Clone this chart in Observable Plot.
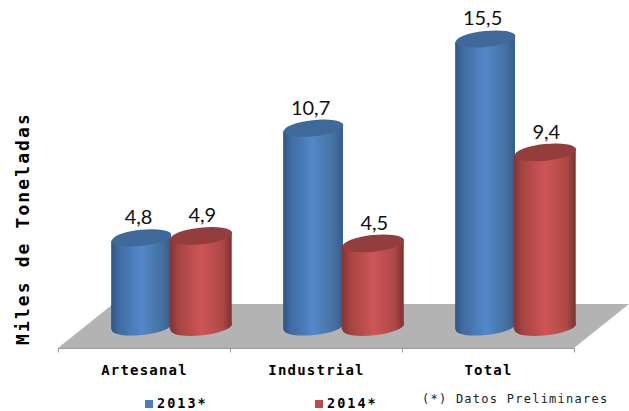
<!DOCTYPE html>
<html><head><meta charset="utf-8">
<script src="https://cdn.jsdelivr.net/npm/d3@7"></script>
<script src="https://cdn.jsdelivr.net/npm/@observablehq/plot@0.6"></script>
<style>
html,body{margin:0;padding:0;background:#fff;overflow:hidden}
#wrap{position:relative;width:629px;height:411px}
svg{display:block}
.lg{position:absolute;font-family:"DejaVu Sans Mono";white-space:nowrap;color:#000}
.k{font-weight:bold;font-size:13.5px;letter-spacing:2px;top:1px;line-height:16px}
.s{top:6px;width:8px;height:8px}
.n{font-size:12px;letter-spacing:1.25px;top:-3px;line-height:16px;color:#222}
</style></head><body><div id="wrap"></div>
<script>
const categories = ["Artesanal", "Industrial", "Total"];
const values2013 = [4.8, 10.7, 15.5];
const values2014 = [4.9, 4.5, 9.4];
const labels2013 = ["4,8", "10,7", "15,5"];
const labels2014 = ["4,9", "4,5", "9,4"];
const seriesNames = ["2013*", "2014*"];
const seriesOffset = [0.483, 0.83];
const halfWidth = [0.174, 0.18];
const tilt = 0.18;
const floorBack = [1.21, 1.21];
const floorFront = [-1.157, -1.157];
const floorX = [0, 3];
const floorShift = 0.32;
const ticks = [0, 1, 2, 3];

const rows = [];
categories.forEach((c, i) => {
  rows.push({c, i, s: 0, v: values2013[i], t: labels2013[i]});
  rows.push({c, i, s: 1, v: values2014[i], t: labels2014[i]});
});
const cx = d => d.i + seriesOffset[d.s];
const byS = s => rows.filter(d => d.s === s);

const squash = (ratio, angle) => function(index, scales, values, dims, ctx, next) {
  const g = next(index, scales, values, dims, ctx);
  d3.select(g).selectAll("circle").each(function() {
    const e = d3.select(this), x = +e.attr("cx"), y = +e.attr("cy");
    e.attr("transform", `translate(${x},${y}) rotate(${angle}) scale(1,${ratio}) translate(${-x},${-y})`);
  });
  return g;
};
const spaced = px => function(index, scales, values, dims, ctx, next) {
  const g = next(index, scales, values, dims, ctx);
  g.style.letterSpacing = px;
  return g;
};

const gradient = (id, stops) => `<linearGradient id="${id}" x1="0" x2="1" y1="0" y2="0">` +
  stops.map(([o, c]) => `<stop offset="${o}" stop-color="${c}"/>`).join("") + `</linearGradient>`;
const defsMark = () => {
  const g = document.createElementNS("http://www.w3.org/2000/svg", "g");
  g.innerHTML = "<defs>" +
    gradient("gBlue", [[0,"#2f5684"],[.12,"#3e6ba1"],[.5,"#5488c9"],[.85,"#44709f"],[1,"#345d8c"]]) +
    gradient("gRed", [[0,"#843433"],[.14,"#a54443"],[.5,"#ce5655"],[.85,"#ad4847"],[1,"#7d3130"]]) +
    "</defs>";
  return g;
};

function cylinders(s, grad, top) {
  const data = byS(s);
  const r = 172 * halfWidth[s];
  const sides = data.flatMap(d => [
    {d, x: cx(d) - halfWidth[s], lo: -tilt, hi: d.v - tilt},
    {d, x: cx(d) + halfWidth[s], lo: tilt, hi: d.v + tilt}
  ]);
  return [
    Plot.dot(data, {x: cx, y: () => 0, r, fill: `url(#${grad})`, render: squash(0.27, -6)}),
    Plot.area(sides, {x1: "x", x2: "x", y1: "lo", y2: "hi", z: e => e.d.c, fill: `url(#${grad})`}),
    Plot.dot(data, {x: cx, y: d => d.v, r, fill: top, render: squash(0.27, -6)})
  ];
}

const plot = Plot.plot({
  width: 629, height: 394,
  marginTop: 0, marginRight: 0, marginBottom: 0, marginLeft: 0,
  x: {axis: null, type: "linear", domain: [0, 3], range: [58, 574]},
  y: {axis: null, type: "linear", domain: [0, 15.5], range: [326.5, 38.5]},
  marks: [
    defsMark,
    Plot.area([0, 1], {
      x1: i => floorX[i] + floorShift, y1: i => floorBack[i],
      x2: i => floorX[i], y2: i => floorFront[i],
      fill: "#b3b3b3"
    }),
    Plot.ruleY([floorFront[0]], {x1: floorX[0], x2: floorX[1], stroke: "#9a9a9a", strokeWidth: 1}),
    Plot.ruleX(ticks, {y1: floorFront[0], y2: floorFront[0] - 0.24, stroke: "#9a9a9a", strokeWidth: 1}),
    ...cylinders(0, "gBlue", "#40699b"),
    ...cylinders(1, "gRed", "#933e3d"),
    Plot.text(byS(0), {x: cx, y: "v", text: "t", dx: -3, dy: -20, fontFamily: "Lato", fontSize: 20, fill: "#111"}),
    Plot.text(byS(1), {x: cx, y: "v", text: "t", dx: 1, dy: -20, fontFamily: "Lato", fontSize: 20, fill: "#111"}),
    Plot.text(categories, {
      x: (d, i) => i + 0.5, y: () => floorFront[0], text: d => d, dy: 22,
      fontFamily: "DejaVu Sans Mono", fontWeight: "bold", fontSize: 14, fill: "#000",
      render: spaced("1.2px")
    }),
    Plot.text(["Miles de Toneladas"], {
      x: () => -0.203, y: () => 5.3, text: d => d, rotate: -90,
      fontFamily: "DejaVu Sans Mono", fontWeight: "bold", fontSize: 18, fill: "#000",
      render: spaced("2.1px")
    })
  ]
});
const wrap = document.getElementById("wrap");
wrap.appendChild(plot);
const legend = document.createElement("div");
legend.style.cssText = "position:relative;width:629px;height:17px";
legend.innerHTML =
  `<div class="lg s" style="left:145px;background:#4a7ebb"></div><div class="lg k" style="left:157px">${seriesNames[0]}</div>` +
  `<div class="lg s" style="left:315px;background:#be4b48"></div><div class="lg k" style="left:327px">${seriesNames[1]}</div>` +
  `<div class="lg n" style="left:422px">(*) Datos Preliminares</div>`;
wrap.appendChild(legend);
</script></body></html>
